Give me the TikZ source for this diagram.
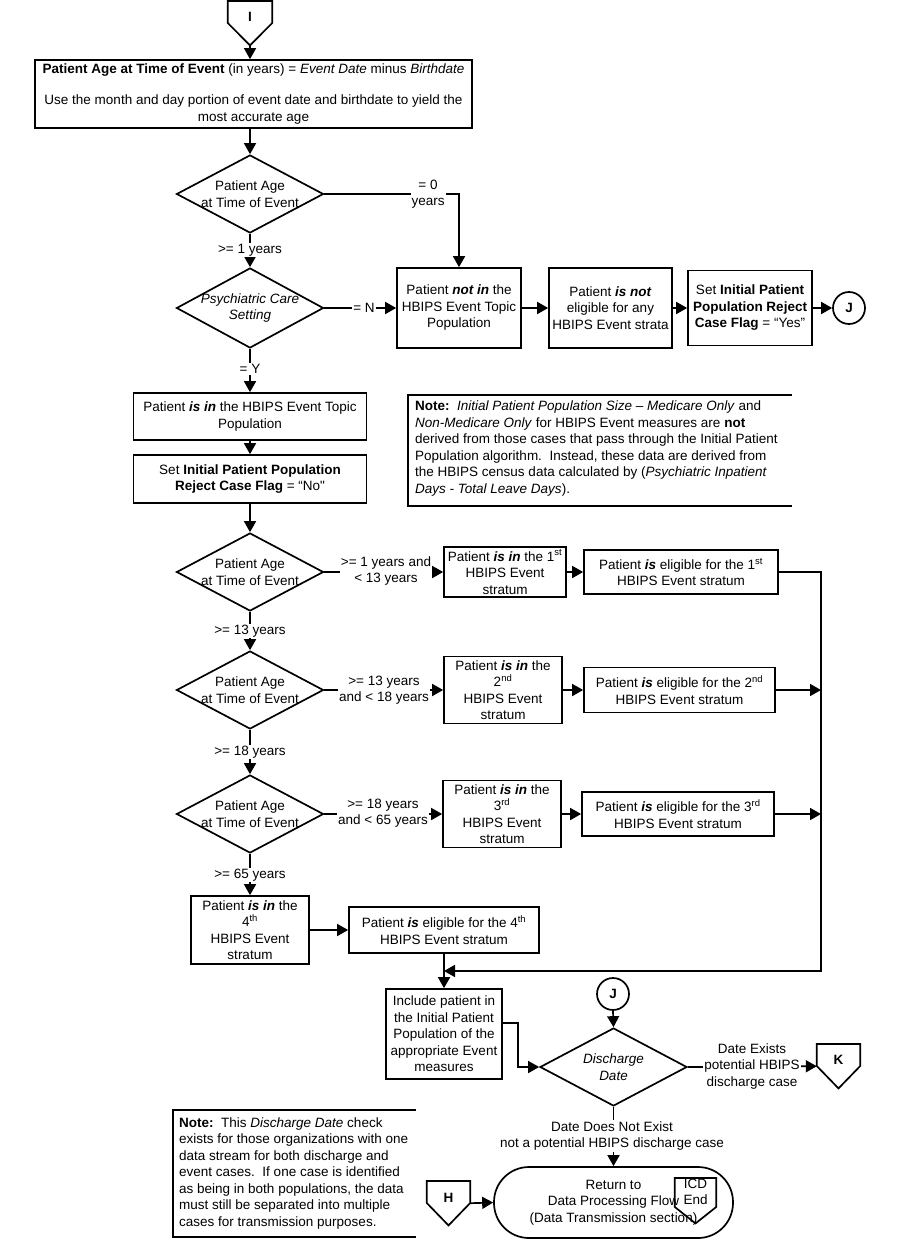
\documentclass[tikz,border=0pt]{standalone}
\usepackage{fontspec}
\setmainfont{Liberation Sans}
\usetikzlibrary{shapes.geometric,arrows.meta,calc}
\newcommand\dfont{\fontsize{13.5}{16.5}\selectfont}
\newcommand\offpg[8]{%
  \node[inner sep=0pt, minimum width=#4, minimum height=#5+#6, anchor=north] (#1) at (#2,#3) {};
  \draw[ln, line join=miter] (#1.north west) -- (#1.north east) -- ++(0,#5) -- (#1.south) -- ($(#1.north west)+(0,#5)$) -- cycle;
  \node[txt] (#1t) at ($(#1.north)+(0,#8)$) {#7};
}
\tikzset{
 ln/.style={line width=1.7pt},
 arr/.style={ln, -{Triangle[length=11pt,width=12pt]}},
 box/.style={draw, ln, rectangle, align=center, inner sep=1pt, font=\dfont},
 dia/.style={draw, ln, diamond, inner sep=0pt, minimum width=147, minimum height=78},
 txt/.style={align=center, inner sep=0pt, font=\dfont},
 lbl/.style={align=center, inner sep=1pt, fill=white, font=\dfont},
 conn/.style={draw, ln, circle, minimum size=32pt, inner sep=0pt, font=\dfont\bfseries},
}
\begin{document}
\begin{tikzpicture}[x=1pt,y=-1pt]
\fill[white] (0,0) rectangle (901,1241);
\useasboundingbox (0,0) rectangle (901,1241);

% connector I
\offpg{I}{250}{1}{44}{22}{22}{\textbf{I}}{16}

\node[box, minimum width=437, minimum height=68] (A) at (253.5,94)
 {\textbf{Patient Age at Time of Event} (in years) = \textit{Event Date} minus \textit{Birthdate}\\[15pt]
  Use the month and day portion of event date and birthdate to yield the\\most accurate age};

% diamonds column
\node[dia] (d1) at (250,194) {};
\node[txt] (d1t) at (d1) {Patient Age\\at Time of Event};
\node[dia, minimum height=80] (d2) at (250,308) {};
\node[txt] (d2t) at (d2) {\textit{Psychiatric Care}\\\textit{Setting}};

\node[box, minimum width=124, minimum height=80] (b1) at (459,308)
 {Patient \textbf{\textit{not in}} the\\HBIPS Event Topic\\Population};
\node[box, minimum width=123, minimum height=80] (b2) at (610.5,308)
 {Patient \textbf{\textit{is not}}\\eligible for any\\HBIPS Event strata};
\node[box, minimum width=124, minimum height=75] (b3) at (750,308)
 {Set \textbf{Initial Patient}\\\textbf{Population Reject}\\\textbf{Case Flag} = “Yes”};
\node[conn] (j1) at (849,308) {J};

\node[box, minimum width=233, minimum height=47] (c1) at (250,416.5)
 {Patient \textbf{\textit{is in}} the HBIPS Event Topic\\Population};
\node[box, minimum width=233, minimum height=48] (c2) at (250,479)
 {Set \textbf{Initial Patient Population}\\\textbf{Reject Case Flag} = “No\textquotedbl};

% note 1
\node[txt, align=left, anchor=west] (n1) at (415,448.5)
 {\textbf{Note:}\ \ \textit{Initial Patient Population Size \textendash\ Medicare Only} and\\
  \textit{Non-Medicare Only} for HBIPS Event measures are \textbf{not}\\
  derived from those cases that pass through the Initial Patient\\
  Population algorithm.\ \ Instead, these data are derived from\\
  the HBIPS census data calculated by (\textit{Psychiatric Inpatient}\\
  \textit{Days - Total Leave Days}).};
\draw[ln] (792,395) -| (408,506) -- (792,506);

% strata rows
\node[dia] (d3) at (250,572) {};
\node[txt] (d3t) at (d3) {Patient Age\\at Time of Event};
\node[box, minimum width=122, minimum height=50] (e1) at (505,572)
 {Patient \textbf{\textit{is in}} the 1\textsuperscript{st}\\HBIPS Event\\stratum};
\node[box, minimum width=194, minimum height=44] (f1) at (681,572)
 {Patient \textbf{\textit{is}} eligible for the 1\textsuperscript{st}\\HBIPS Event stratum};

\node[dia] (d4) at (250,690) {};
\node[txt] (d4t) at (d4) {Patient Age\\at Time of Event};
\node[box, minimum width=118, minimum height=67] (e2) at (503,690)
 {Patient \textbf{\textit{is in}} the\\2\textsuperscript{nd}\\HBIPS Event\\stratum};
\node[box, minimum width=191, minimum height=45] (f2) at (679.5,690)
 {Patient \textbf{\textit{is}} eligible for the 2\textsuperscript{nd}\\HBIPS Event stratum};

\node[dia] (d5) at (250,814) {};
\node[txt] (d5t) at (d5) {Patient Age\\at Time of Event};
\node[box, minimum width=118, minimum height=67] (e3) at (502,814)
 {Patient \textbf{\textit{is in}} the\\3\textsuperscript{rd}\\HBIPS Event\\stratum};
\node[box, minimum width=192, minimum height=44] (f3) at (678,814)
 {Patient \textbf{\textit{is}} eligible for the 3\textsuperscript{rd}\\HBIPS Event stratum};

\node[box, minimum width=118, minimum height=68] (g1) at (250,930)
 {Patient \textbf{\textit{is in}} the\\4\textsuperscript{th}\\HBIPS Event\\stratum};
\node[box, minimum width=190, minimum height=46] (g2) at (444,930)
 {Patient \textbf{\textit{is}} eligible for the 4\textsuperscript{th}\\HBIPS Event stratum};

\node[box, minimum width=116, minimum height=90] (inc) at (444,1034)
 {Include patient in\\the Initial Patient\\Population of the\\appropriate Event\\measures};

\coordinate (rb) at (821,971);
\coordinate (mj) at (444,971);

\node[conn] (j2) at (613,994) {J};
\node[dia] (d6) at (613.5,1067) {};
\node[txt] (d6t) at (d6) {\textit{Discharge}\\\textit{Date}};

\offpg{K}{838.5}{1044}{43}{22}{22}{\textbf{K}}{16}

\node[draw, ln, rounded corners=35pt, minimum width=239, minimum height=71, inner sep=0pt,
 font=\dfont, align=center] (term) at (613.5,1202.5)
 {Return to\\Data Processing Flow\\(Data Transmission section)};
\offpg{icd}{695.5}{1178}{41}{29}{16}{ICD\\End}{14}
\offpg{hc}{448.5}{1181}{43}{22}{22}{\textbf{H}}{17}

% note 2
\node[txt, align=left, anchor=west] (n2) at (179,1173)
 {\textbf{Note:}\ \ This \textit{Discharge Date} check\\
  exists for those organizations with one\\
  data stream for both discharge and\\
  event cases.\ \ If one case is identified\\
  as being in both populations, the data\\
  must still be separated into multiple\\
  cases for transmission purposes.};
\draw[ln] (416,1110) -| (173,1237) -- (416,1237);

% connectors
\draw[arr] (I.south) -- (I.south |- A.north);
\draw[arr] (A.south -| d1.north) -- (d1.north);
\draw[arr] (d1.east) -| (b1.north);
\draw[arr] (d1.south) -- (d2.north);
\draw[arr] (d2.east) -- (b1.west);
\draw[arr] (b1.east) -- (b2.west);
\draw[arr] (b2.east) -- (b3.west);
\draw[arr] (b3.east) -- (j1.west);
\draw[arr] (d2.south) -- (c1.north);
\draw[arr] (c1.south) -- (c2.north);
\draw[arr] (c2.south) -- (d3.north);
\draw[arr] (d3.east) -- (e1.west);
\draw[arr] (e1.east) -- (f1.west);
\draw[arr] (f1.east) -| (rb) -- (mj);
\draw[arr] (d3.south) -- (d4.north);
\draw[arr] (d4.east) -- (e2.west);
\draw[arr] (e2.east) -- (f2.west);
\draw[arr] (f2.east) -- (f2.east -| rb);
\draw[arr] (d4.south) -- (d5.north);
\draw[arr] (d5.east) -- (e3.west);
\draw[arr] (e3.east) -- (f3.west);
\draw[arr] (f3.east) -- (f3.east -| rb);
\draw[arr] (d5.south) -- (g1.north);
\draw[arr] (g1.east) -- (g2.west);
\draw[arr] (g2.south) -- (inc.north);
\draw[arr] ([yshift=11pt]inc.east) -- ++(15,0) |- (d6.west);
\draw[arr] (j2.south) -- (d6.north);
\draw[arr] (d6.east) -- (K.west);
\draw[arr] (d6.south) -- (term.north);
\draw[arr] (hc.east) -- (term.west);

% connector labels
\node[lbl] (l0) at (428,194) {= 0\\years};
\node[lbl] (l1) at (250,250) {>= 1 years};
\node[lbl] (lN) at (364,308) {= N};
\node[lbl] (lY) at (250,369) {= Y};
\node[lbl] (l13a) at (386,571) {>= 1 years and\\< 13 years};
\node[lbl] (l13) at (250,631) {>= 13 years};
\node[lbl] (l18a) at (384,690) {>= 13 years\\and < 18 years};
\node[lbl] (l18) at (250,752) {>= 18 years};
\node[lbl] (l65a) at (383,813) {>= 18 years\\and < 65 years};
\node[lbl] (l65) at (250,875) {>= 65 years};
\node[lbl] (lex) at (752,1066) {Date Exists\\potential HBIPS\\discharge case};
\node[lbl] (lnx) at (612,1136) {Date Does Not Exist\\not a potential HBIPS discharge case};
\end{tikzpicture}
\end{document}
